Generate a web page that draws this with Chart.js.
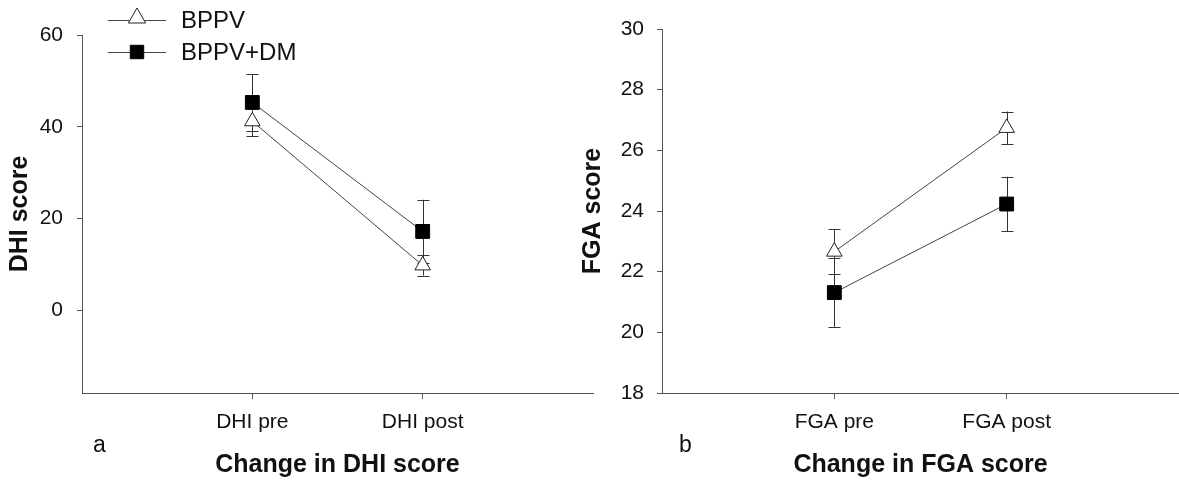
<!DOCTYPE html>
<html>
<head>
<meta charset="utf-8">
<script src="https://cdn.jsdelivr.net/npm/chart.js@4"></script>
<style>
  body { margin: 0; background: #fff; }
  #wrap { position: relative; width: 1179px; height: 482px; overflow: hidden; }
  canvas { position: absolute; top: 0; }
  #dhiChart { left: 0; }
  #fgaChart { left: 570px; }
</style>
</head>
<body>
<div id="wrap">
  <canvas id="dhiChart" width="596" height="482"></canvas>
  <canvas id="fgaChart" width="609" height="482"></canvas>
</div>
<script>
const seriesNames = ["BPPV", "BPPV+DM"];

const dhiCategories = ["DHI pre", "DHI post"];
const dhiBppv = [41.2, 9.8];
const dhiBppvSd = [3.2, 2.2];
const dhiDm = [45.3, 17.2];
const dhiDmSd = [6.2, 6.9];
const dhiTicks = [0, 20, 40, 60];

const fgaCategories = ["FGA pre", "FGA post"];
const fgaBppv = [22.66, 26.74];
const fgaBppvSd = [0.74, 0.54];
const fgaDm = [21.31, 24.23];
const fgaDmSd = [1.13, 0.9];
const fgaTicks = [18, 20, 22, 24, 26, 28, 30];

const FONT = "'Liberation Sans', Arial, sans-serif";
const AXIS_COLOR = "#555";
const TEXT_COLOR = "#111";

const triangleStyle = {
  pointStyle: "triangle",
  pointRadius: 9,
  pointBackgroundColor: "#fff",
  pointBorderColor: "#222",
  pointBorderWidth: 1
};
const squareStyle = {
  pointStyle: "rect",
  pointRadius: 9.8,
  pointBackgroundColor: "#000",
  pointBorderColor: "#000",
  pointBorderWidth: 1
};

function toPoints(values) {
  return values.map((v, i) => ({ x: i + 1, y: v }));
}

function makeDatasets(bppv, bppvSd, dm, dmSd) {
  return [
    Object.assign({
      label: seriesNames[0],
      data: toPoints(bppv),
      sd: bppvSd,
      borderColor: "#444",
      borderWidth: 1
    }, triangleStyle),
    Object.assign({
      label: seriesNames[1],
      data: toPoints(dm),
      sd: dmSd,
      borderColor: "#444",
      borderWidth: 1
    }, squareStyle)
  ];
}

// error bars, drawn under the markers
const errorBars = {
  id: "errorBars",
  beforeDatasetsDraw(chart) {
    const ctx = chart.ctx;
    const y = chart.scales.y;
    ctx.save();
    ctx.strokeStyle = "#333";
    ctx.lineWidth = 1;
    chart.data.datasets.forEach((ds, di) => {
      const meta = chart.getDatasetMeta(di);
      meta.data.forEach((pt, i) => {
        const v = ds.data[i].y;
        const top = y.getPixelForValue(v + ds.sd[i]);
        const bot = y.getPixelForValue(v - ds.sd[i]);
        const x = Math.round(pt.x) + 0.5;
        ctx.beginPath();
        ctx.moveTo(x, top);
        ctx.lineTo(x, bot);
        ctx.moveTo(x - 6, Math.round(top) + 0.5);
        ctx.lineTo(x + 6, Math.round(top) + 0.5);
        ctx.moveTo(x - 6, Math.round(bot) + 0.5);
        ctx.lineTo(x + 6, Math.round(bot) + 0.5);
        ctx.stroke();
      });
    });
    ctx.restore();
  }
};

function drawMarker(ctx, style, radius, x, y) {
  ctx.fillStyle = style.pointBackgroundColor;
  ctx.strokeStyle = style.pointBorderColor;
  ctx.lineWidth = 1;
  if (Chart.helpers && Chart.helpers.drawPoint) {
    Chart.helpers.drawPoint(ctx, {
      pointStyle: style.pointStyle, radius: radius, rotation: 0, borderWidth: 1
    }, x, y);
  }
}

// legend and panel letter
const annotations = {
  id: "annotations",
  afterDraw(chart, args, opts) {
    const ctx = chart.ctx;
    ctx.save();
    if (opts.legend) {
      const rows = [
        { y: 20, my: 18, style: triangleStyle, r: 10, text: seriesNames[0] },
        { y: 52, my: 52, style: squareStyle, r: 9.5, text: seriesNames[1] }
      ];
      rows.forEach((row) => {
        ctx.strokeStyle = "#444";
        ctx.lineWidth = 1;
        ctx.beginPath();
        ctx.moveTo(108, row.y + 0.5);
        ctx.lineTo(166, row.y + 0.5);
        ctx.stroke();
        drawMarker(ctx, row.style, row.r, 137, row.my);
        ctx.fillStyle = TEXT_COLOR;
        ctx.font = "24px " + FONT;
        ctx.textAlign = "left";
        ctx.textBaseline = "middle";
        ctx.fillText(row.text, 181, row.y + 1);
      });
    }
    ctx.fillStyle = TEXT_COLOR;
    ctx.font = "23px " + FONT;
    ctx.textAlign = "left";
    ctx.textBaseline = "alphabetic";
    ctx.fillText(opts.letter, opts.letterX, 452);
    ctx.restore();
  }
};

function makeChart(canvasId, cfg) {
  return new Chart(document.getElementById(canvasId), {
    type: "line",
    data: { datasets: cfg.datasets },
    plugins: [errorBars, annotations],
    options: {
      responsive: false,
      animation: false,
      layout: {
        autoPadding: false,
        padding: { top: cfg.padTop, right: cfg.padRight, left: 0, bottom: 0 }
      },
      plugins: {
        legend: { display: false },
        tooltip: { enabled: false },
        annotations: { legend: cfg.legend, letter: cfg.letter, letterX: cfg.letterX }
      },
      scales: {
        x: {
          type: "linear",
          min: 0,
          max: 3,
          afterBuildTicks: (s) => { s.ticks = cfg.categories.map((c, i) => ({ value: i + 1 })); },
          afterFit: (s) => { s.height = 89; },
          ticks: {
            callback: (v) => cfg.categories[v - 1],
            autoSkip: false,
            maxRotation: 0,
            padding: 11,
            color: TEXT_COLOR,
            font: { family: FONT, size: 21 }
          },
          grid: { drawOnChartArea: false, tickLength: 6, color: AXIS_COLOR },
          border: { color: AXIS_COLOR, width: 1 },
          title: {
            display: true,
            text: cfg.xTitle,
            color: TEXT_COLOR,
            padding: { top: 0, bottom: 2 },
            font: { family: FONT, size: 25, weight: "bold" }
          }
        },
        y: {
          min: cfg.yMin,
          max: cfg.yMax,
          afterBuildTicks: (s) => { s.ticks = cfg.yTicks.map((v) => ({ value: v })); },
          afterFit: (s) => { s.width = cfg.yWidth; },
          ticks: {
            padding: cfg.yTickPad,
            color: TEXT_COLOR,
            font: { family: FONT, size: 21 }
          },
          grid: { drawOnChartArea: false, tickLength: 5, color: AXIS_COLOR },
          border: { color: AXIS_COLOR, width: 1 },
          title: {
            display: true,
            text: cfg.yTitle,
            color: TEXT_COLOR,
            padding: { top: cfg.yTitlePad, bottom: 0 },
            font: { family: FONT, size: 25, weight: "bold" }
          }
        }
      }
    }
  });
}

makeChart("dhiChart", {
  datasets: makeDatasets(dhiBppv, dhiBppvSd, dhiDm, dhiDmSd),
  categories: dhiCategories,
  yTicks: dhiTicks,
  yMin: -18,
  yMax: 60,
  yWidth: 82,
  yTickPad: 14,
  yTitlePad: 5,
  padTop: 35,
  padRight: 3,
  xTitle: "Change in DHI score",
  yTitle: "DHI score",
  legend: true,
  letter: "a",
  letterX: 93
});

makeChart("fgaChart", {
  datasets: makeDatasets(fgaBppv, fgaBppvSd, fgaDm, fgaDmSd),
  categories: fgaCategories,
  yTicks: fgaTicks,
  yMin: 18,
  yMax: 30,
  yWidth: 92,
  yTickPad: 13,
  yTitlePad: 8,
  padTop: 29,
  padRight: 0,
  xTitle: "Change in FGA score",
  yTitle: "FGA score",
  legend: false,
  letter: "b",
  letterX: 109
});
</script>
</body>
</html>
